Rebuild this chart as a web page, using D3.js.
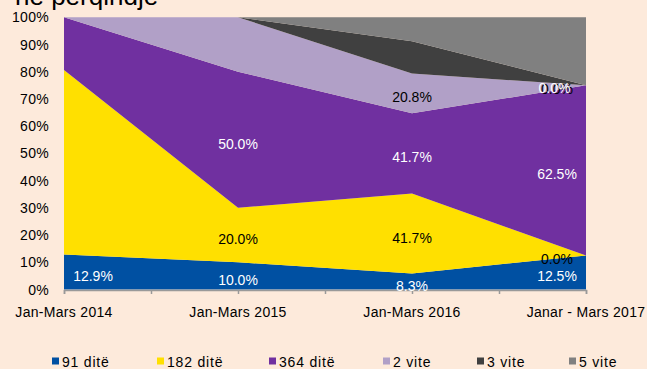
<!DOCTYPE html>
<html>
<head>
<meta charset="utf-8">
<script src="https://cdn.jsdelivr.net/npm/d3@7"></script>
<style>
  html, body { margin: 0; padding: 0; background: #FDEADB; }
  svg { display: block; font-family: "Liberation Sans", Arial, sans-serif; }
</style>
</head>
<body>
<svg id="chart" width="647" height="369"></svg>
<script>
// Categories (quarters) and series (maturities)
const categories = ["Jan-Mars 2014", "Jan-Mars 2015", "Jan-Mars 2016", "Janar - Mars 2017"];
const seriesNames = ["91 ditë", "182 ditë", "364 ditë", "2 vite", "3 vite", "5 vite"];

// Share of each maturity, per quarter (%)
const v91d  = [12.9, 10.0,  8.3, 12.5];
const v182d = [67.7, 20.0, 41.7,  0.0];
const v364d = [19.4, 50.0, 41.7, 62.5];
const v2y   = [ 0.0, 20.0, 20.8,  0.0];
const v3y   = [ 0.0,  0.0, 16.7,  0.0];
const v5y   = [ 0.0,  0.0, 12.5, 25.0];

// Which points carry a data label
const lbl91d  = [true,  true,  true,  true];
const lbl182d = [false, true,  true,  true];
const lbl364d = [false, true,  true,  true];
const lbl2y   = [false, false, true,  true];
const lbl3y   = [false, false, false, true];
const lbl5y   = [false, false, false, false];

const yTickValues = [0, 10, 20, 30, 40, 50, 60, 70, 80, 90, 100];

const seriesValues = [v91d, v182d, v364d, v2y, v3y, v5y];
const seriesLabels = [lbl91d, lbl182d, lbl364d, lbl2y, lbl3y, lbl5y];
const colors = ["#0050A2", "#FFE000", "#7030A0", "#B1A0C7", "#404040", "#808080"];
const labelColors = ["#fff", "#000", "#fff", "#000", "#fff", "#fff"];

const rows = categories.map((c, i) => {
  const r = { cat: c, idx: i };
  seriesNames.forEach((s, k) => r[s] = seriesValues[k][i]);
  return r;
});

const stack = d3.stack().keys(seriesNames).offset(d3.stackOffsetExpand);
const layers = stack(rows);

const svg = d3.select("#chart");
const plotLeft = 64, plotRight = 586, plotTop = 17.3, plotBottom = 289.5;

const x = d3.scaleLinear().domain([0, categories.length - 1]).range([plotLeft, plotRight]);
const y = d3.scaleLinear().domain([0, 1]).range([plotBottom, plotTop]);

// Title (last line of a heading partly out of view)
svg.append("text")
  .attr("x", 15).attr("y", 5)
  .attr("font-size", 26)
  .attr("fill", "#000")
  .text("në përqindje");

// Stacked areas
const area = d3.area()
  .x((d, i) => x(i))
  .y0(d => y(d[0]))
  .y1(d => y(d[1]));

svg.append("g").selectAll("path")
  .data(layers)
  .join("path")
  .attr("d", area)
  .attr("fill", (d, i) => colors[i]);

// Y axis labels
svg.append("g").selectAll("text")
  .data(yTickValues)
  .join("text")
  .attr("x", 49)
  .attr("y", d => y(d / 100) + 5)
  .attr("text-anchor", "end")
  .attr("font-size", 14)
  .attr("letter-spacing", 0.3)
  .attr("fill", "#000")
  .text(d => d + "%");

// X axis with ticks between categories
const xAxis = d3.axisBottom(x)
  .tickValues(d3.range(0, categories.length - 0.5 + 0.01, 0.5))
  .tickSize(4)
  .tickFormat(() => "");
const gx = svg.append("g").attr("transform", `translate(0,${plotBottom + 0.5})`).call(xAxis);
gx.select(".domain").attr("stroke", "#999").attr("stroke-width", 1.5);
gx.selectAll(".tick line").attr("stroke", "#999").attr("stroke-width", 1.5);

svg.append("g").selectAll("text")
  .data(categories)
  .join("text")
  .attr("x", (d, i) => x(i))
  .attr("y", 317)
  .attr("text-anchor", "middle")
  .attr("font-size", 14)
  .attr("letter-spacing", 0.3)
  .attr("fill", "#000")
  .text(d => d);

// Data labels, centred in each band
const labelG = svg.append("g").attr("font-size", 14);
layers.forEach((layer, k) => {
  layer.forEach((d, i) => {
    if (!seriesLabels[k][i]) return;
    let lx = x(i);
    if (i === 0) lx += 29;
    if (i === categories.length - 1) lx -= 29;
    let ly = (y(d[0]) + y(d[1])) / 2 + 9;
    if (k === 4) { lx -= 2.5; ly -= 1; }
    labelG.append("text")
      .attr("x", lx).attr("y", ly)
      .attr("text-anchor", "middle")
      .attr("fill", labelColors[k])
      .text(seriesValues[k][i].toFixed(1) + "%");
  });
});

// Legend
const legendX = [52, 157, 269, 383, 477, 569];
const lg = svg.append("g");
seriesNames.forEach((s, k) => {
  lg.append("rect")
    .attr("x", legendX[k]).attr("y", 357.5)
    .attr("width", 7).attr("height", 7)
    .attr("fill", colors[k]);
  lg.append("text")
    .attr("x", legendX[k] + 10).attr("y", 367)
    .attr("font-size", 14)
    .attr("letter-spacing", 0.8)
    .attr("fill", "#000")
    .text(s);
});
</script>
</body>
</html>
